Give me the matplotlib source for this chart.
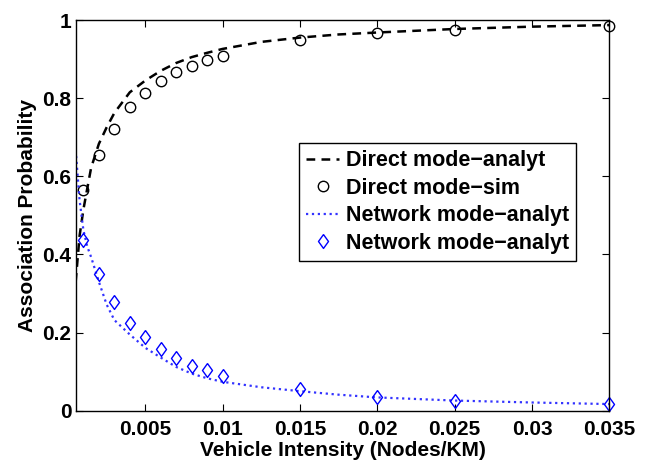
import matplotlib
matplotlib.use("Agg")
import matplotlib.pyplot as plt

plt.rcParams['font.family'] = ['Liberation Sans', 'DejaVu Sans']
plt.rcParams['font.weight'] = 'bold'

# simulation points
x_sim = [0.001, 0.002, 0.003, 0.004, 0.005, 0.006, 0.007, 0.008, 0.009, 0.010,
         0.015, 0.020, 0.025, 0.035]
direct_sim = [0.565, 0.654, 0.722, 0.777, 0.814, 0.843, 0.866, 0.882, 0.897, 0.909,
              0.948, 0.966, 0.975, 0.985]
network_sim = [0.437, 0.349, 0.278, 0.225, 0.189, 0.157, 0.136, 0.115, 0.104, 0.090,
               0.056, 0.036, 0.026, 0.017]

# analytical curves
x_an = [0.0005, 0.00075, 0.001, 0.00125, 0.0015, 0.002, 0.0025, 0.003, 0.004, 0.005,
        0.006, 0.007, 0.008, 0.009, 0.010, 0.0125, 0.015, 0.0175, 0.020, 0.025,
        0.030, 0.035]
direct_an = [0.330, 0.447, 0.515, 0.569, 0.622, 0.683, 0.725, 0.762, 0.815, 0.845,
             0.870, 0.890, 0.905, 0.916, 0.926, 0.944, 0.955, 0.963, 0.968, 0.977,
             0.983, 0.987]
network_an = [0.667, 0.540, 0.462, 0.420, 0.393, 0.330, 0.272, 0.232, 0.195, 0.161,
              0.136, 0.112, 0.095, 0.083, 0.074, 0.060, 0.050, 0.041, 0.034, 0.026,
              0.021, 0.017]

x_ticks = [0.005, 0.01, 0.015, 0.02, 0.025, 0.03, 0.035]
x_tick_labels = ['0.005', '0.01', '0.015', '0.02', '0.025', '0.03', '0.035']
y_ticks = [0, 0.2, 0.4, 0.6, 0.8, 1]
y_tick_labels = ['0', '0.2', '0.4', '0.6', '0.8', '1']

# matlab-ish diamond (a bit wider than matplotlib's thin diamond)
diamond = [(0, 1), (0.72, 0), (0, -1), (-0.72, 0), (0, 1)]

fig = plt.figure(figsize=(6.49, 4.61), dpi=100)
ax = fig.add_axes([0.1166, 0.1091, 0.8222, 0.8475])

ax.plot(x_an, direct_an, '--', color='black', linewidth=1.8, dashes=(3.5, 2.5),
        label='Direct mode\u2212analyt')
ax.plot(x_sim, direct_sim, 'o', color='black', markerfacecolor='none',
        markersize=7.5, markeredgewidth=1, label='Direct mode\u2212sim', clip_on=False)
ax.plot(x_an, network_an, ':', color='#3333ff', linewidth=1.6,
        label='Network mode\u2212analyt')
ax.plot(x_sim, network_sim, marker=diamond, linestyle='none', color='blue',
        markerfacecolor='none', markersize=10, markeredgewidth=1,
        label='Network mode\u2212analyt', clip_on=False)

ax.set_xlim(0.0005, 0.035)
ax.set_ylim(0, 1)
ax.set_xticks(x_ticks)
ax.set_xticklabels(x_tick_labels)
ax.set_yticks(y_ticks)
ax.set_yticklabels(y_tick_labels)
ax.tick_params(direction='in', length=5, width=0.8, top=True, right=True,
               labelsize=15)
ax.tick_params(axis='x', pad=7)
ax.tick_params(axis='y', pad=3)
for s in ax.spines.values():
    s.set_linewidth(1.0)

ax.set_xlabel('Vehicle Intensity (Nodes/KM)', fontsize=15, fontweight='bold', labelpad=1)
ax.set_ylabel('Association Probability', fontsize=15, fontweight='bold', labelpad=4)

leg = ax.legend(loc='upper left', bbox_to_anchor=(0.4607, 0.689),
                bbox_transform=fig.transFigure, borderaxespad=0,
                prop={'weight': 'bold', 'size': 15.5}, fancybox=False,
                framealpha=1, edgecolor='black', handlelength=1.55, markerscale=1,
                handletextpad=0.3, labelspacing=0.3, borderpad=0.32)
leg.get_frame().set_linewidth(1.0)

fig.savefig('out.png', dpi=100)
